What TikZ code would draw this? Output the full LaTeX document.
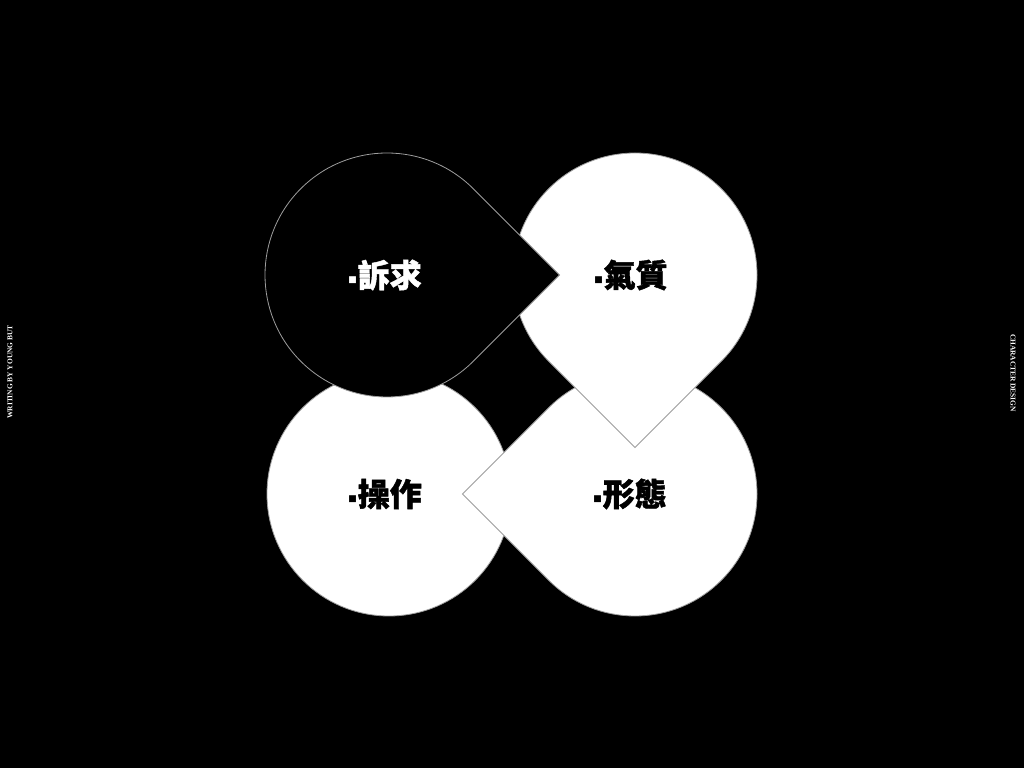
\documentclass[tikz,border=0pt]{standalone}
\usepackage{fontspec}
\setmainfont{Liberation Serif}
\newfontfamily\cjk{Noto Sans CJK TC}[UprightFont=* Black,FakeBold=1.4]
\newfontfamily\dotfont{DejaVu Sans}
\usepackage{tikz}
\usetikzlibrary{positioning}

\newcommand{\R}{122pt}
\newcommand{\Drop}[3]{%
\draw[dropline,fill=#3] ([shift={(#2:172.5pt)}]#1) -- ([shift={(#2+45:\R)}]#1)
  arc[start angle=#2+45, delta angle=270, radius=\R] -- cycle;}
\newcommand{\Pt}{\raisebox{5pt}{\dotfont\fontsize{9}{9}\selectfont■}\hspace{1pt}}

\begin{document}
\begin{tikzpicture}[x=1pt,y=1pt,
  dropline/.style={draw=black!38,line width=0.8pt},
  cjktext/.style={font=\cjk\fontsize{32}{32}\selectfont,inner sep=0pt},
  sidetext/.style={font=\bfseries\fontsize{7.4}{7.4}\selectfont,white,inner sep=0pt}]
\fill[black] (0,0) rectangle (1024,768);
\useasboundingbox (0,0) rectangle (1024,768);
\coordinate (TL) at (387,493);
\coordinate (TR) at (635,493);
\coordinate (BL) at (389,274);
\coordinate (BR) at (635,274);
%\Drop{BL}{90}{white}
\draw[dropline,fill=white] (BL) circle[radius=\R];
\Drop{BR}{180}{white}
\Drop{TR}{270}{white}
\Drop{TL}{0}{black}
\node[cjktext,white] (suqiu) at ([xshift=-2pt]TL) {\Pt 訴求};
\node[cjktext] (qizhi) at ([xshift=-4pt]TR) {\Pt 氣質};
\node[cjktext] (caozuo) at ([xshift=-4pt]BL) {\Pt 操作};
\node[cjktext] (xingtai) at ([xshift=-5pt]BR) {\Pt 形態};
\node[sidetext,rotate=90] (writing) at (10,396) {WRITING BY YOUNG BUT};
\node[sidetext,rotate=-90] (design) at (1013,395) {CHARACTER DESIGN};
\end{tikzpicture}
\end{document}
